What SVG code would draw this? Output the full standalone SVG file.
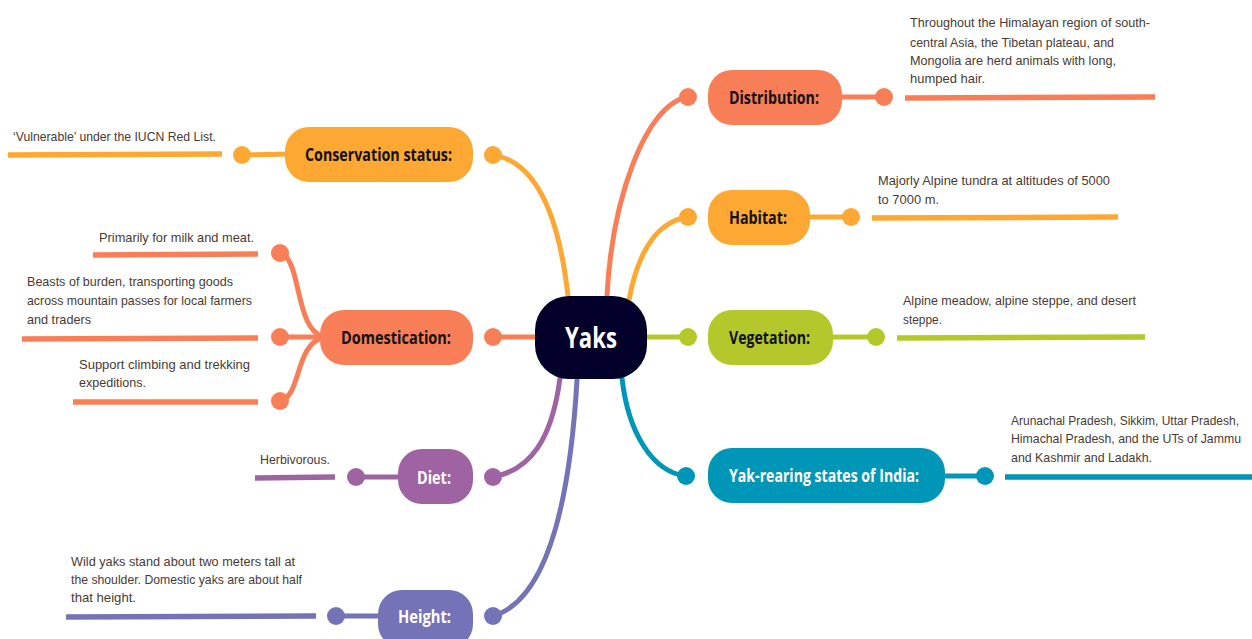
<svg xmlns="http://www.w3.org/2000/svg" width="1252" height="639" viewBox="0 0 1252 639">
<style>
.bg{fill:#ffffff}
.lbl{font-family:"Open Sans","Liberation Sans",sans-serif;font-weight:bold;font-size:18px}
.dk{fill:#111111}
.wt{fill:#ffffff}
.det{font-family:"Liberation Sans","Open Sans",sans-serif;font-size:13px;fill:#4a3a34}
.c{fill:none;stroke-width:5;stroke-linecap:round}
.u{fill:none;stroke-width:5.5;stroke-linecap:butt}
.or{stroke:#fda833}.orf{fill:#fda833}
.sa{stroke:#f87e57}.saf{fill:#f87e57}
.gr{stroke:#b5c82b}.grf{fill:#b5c82b}
.te{stroke:#0096b8}.tef{fill:#0096b8}
.pu{stroke:#9f63a4}.puf{fill:#9f63a4}
.in{stroke:#7473b8}.inf{fill:#7473b8}
</style>
<rect class="bg" x="0" y="0" width="1252" height="639"/>

<g id="connectors">
  <path class="c or" d="M493,155 C540,162 560,225 568,296"/>
  <path class="c sa" d="M688,97 C645,104 612,200 607,296"/>
  <path class="c or" d="M688,217 C652,222 636,262 629,300"/>
  <path class="c gr" d="M646,337 L688,337"/>
  <path class="c te" d="M622,378 C628,432 652,472 686,476"/>
  <path class="c sa" d="M493,337 L537,337"/>
  <path class="c pu" d="M560,378 C552,440 530,470 493,477"/>
  <path class="c in" d="M577,380 C570,500 548,600 493,616"/>
  <!-- node to detail dot -->
  <path class="c or" d="M242,155 L290,154"/>
  <path class="c sa" d="M835,97 L884,97"/>
  <path class="c or" d="M805,217 L851,217"/>
  <path class="c gr" d="M828,337 L876,337"/>
  <path class="c te" d="M940,476 L985,476"/>
  <path class="c sa" d="M280,253 C302,258 294,330 324,337"/>
  <path class="c sa" d="M280,337 L324,337"/>
  <path class="c sa" d="M280,401 C302,396 294,345 324,337"/>
  <path class="c pu" d="M356,477 L403,477"/>
  <path class="c in" d="M336,616 L383,616"/>
  <!-- underlines -->
  <path class="u or" d="M8,155 L222,154"/>
  <path class="u sa" d="M905,98 L1155,97"/>
  <path class="u or" d="M872,218 L1118,217"/>
  <path class="u gr" d="M897,338 L1145,337"/>
  <path class="u te" d="M1005,477 L1252,477"/>
  <path class="u sa" d="M93,255 L258,254"/>
  <path class="u sa" d="M22,339 L258,338"/>
  <path class="u sa" d="M73,402 L258,402"/>
  <path class="u pu" d="M255,478 L335,477"/>
  <path class="u in" d="M66,617 L316,616"/>
  <!-- dots -->
  <circle class="orf" cx="242" cy="155" r="9"/>
  <circle class="orf" cx="493" cy="155" r="9"/>
  <circle class="saf" cx="688" cy="97" r="9"/>
  <circle class="saf" cx="884" cy="97" r="9"/>
  <circle class="orf" cx="688" cy="217" r="9"/>
  <circle class="orf" cx="851" cy="217" r="9"/>
  <circle class="grf" cx="688" cy="337" r="9"/>
  <circle class="grf" cx="876" cy="337" r="9"/>
  <circle class="tef" cx="686" cy="476" r="9"/>
  <circle class="tef" cx="985" cy="476" r="9"/>
  <circle class="saf" cx="493" cy="337" r="9"/>
  <circle class="saf" cx="280" cy="253" r="9"/>
  <circle class="saf" cx="280" cy="337" r="9"/>
  <circle class="saf" cx="280" cy="401" r="9"/>
  <circle class="puf" cx="493" cy="477" r="9"/>
  <circle class="puf" cx="356" cy="477" r="9"/>
  <circle class="inf" cx="493" cy="616" r="9"/>
  <circle class="inf" cx="336" cy="616" r="9"/>
</g>

<g id="yaks">
  <rect x="535" y="296" width="112" height="83" rx="34" fill="#02002b"/>
  <text x="591" y="348" text-anchor="middle" class="lbl wt" style="font-size:29px" textLength="52" lengthAdjust="spacingAndGlyphs">Yaks</text>
</g>

<g id="conservation">
  <rect x="285" y="127" width="188" height="55" rx="24" class="orf"/>
  <text x="305" y="161" class="lbl dk" textLength="147" lengthAdjust="spacingAndGlyphs">Conservation status:</text>
  <text x="13" y="141" class="det" textLength="203" lengthAdjust="spacingAndGlyphs">‘Vulnerable’ under the IUCN Red List.</text>
</g>

<g id="distribution">
  <rect x="708" y="70" width="134" height="55" rx="24" class="saf"/>
  <text x="729" y="104" class="lbl dk" textLength="90" lengthAdjust="spacingAndGlyphs">Distribution:</text>
  <text class="det">
    <tspan x="910" y="27" textLength="240" lengthAdjust="spacingAndGlyphs">Throughout the Himalayan region of south-</tspan>
    <tspan x="910" y="47" textLength="204" lengthAdjust="spacingAndGlyphs">central Asia, the Tibetan plateau, and</tspan>
    <tspan x="910" y="65" textLength="206" lengthAdjust="spacingAndGlyphs">Mongolia are herd animals with long,</tspan>
    <tspan x="910" y="83" textLength="75" lengthAdjust="spacingAndGlyphs">humped hair.</tspan>
  </text>
</g>

<g id="habitat">
  <rect x="708" y="190" width="102" height="55" rx="24" class="orf"/>
  <text x="729" y="224" class="lbl dk" textLength="58" lengthAdjust="spacingAndGlyphs">Habitat:</text>
  <text class="det">
    <tspan x="878" y="185" textLength="232" lengthAdjust="spacingAndGlyphs">Majorly Alpine tundra at altitudes of 5000</tspan>
    <tspan x="878" y="204" textLength="61" lengthAdjust="spacingAndGlyphs">to 7000 m.</tspan>
  </text>
</g>

<g id="vegetation">
  <rect x="708" y="310" width="125" height="55" rx="24" class="grf"/>
  <text x="729" y="344" class="lbl dk" textLength="81" lengthAdjust="spacingAndGlyphs">Vegetation:</text>
  <text class="det">
    <tspan x="903" y="305" textLength="233" lengthAdjust="spacingAndGlyphs">Alpine meadow, alpine steppe, and desert</tspan>
    <tspan x="903" y="324" textLength="39" lengthAdjust="spacingAndGlyphs">steppe.</tspan>
  </text>
</g>

<g id="yakrearing">
  <rect x="708" y="448" width="237" height="55" rx="24" class="tef"/>
  <text x="729" y="482" class="lbl wt" textLength="190" lengthAdjust="spacingAndGlyphs">Yak-rearing states of India:</text>
  <text class="det" style="font-size:12.4px">
    <tspan x="1011" y="425" textLength="228" lengthAdjust="spacingAndGlyphs">Arunachal Pradesh, Sikkim, Uttar Pradesh,</tspan>
    <tspan x="1011" y="443" textLength="230" lengthAdjust="spacingAndGlyphs">Himachal Pradesh, and the UTs of Jammu</tspan>
    <tspan x="1011" y="462" textLength="141" lengthAdjust="spacingAndGlyphs">and Kashmir and Ladakh.</tspan>
  </text>
</g>

<g id="domestication">
  <rect x="320" y="310" width="153" height="55" rx="24" class="saf"/>
  <text x="341" y="344" class="lbl dk" textLength="110" lengthAdjust="spacingAndGlyphs">Domestication:</text>
  <text x="99" y="242" class="det" textLength="155" lengthAdjust="spacingAndGlyphs">Primarily for milk and meat.</text>
  <text class="det">
    <tspan x="27" y="286" textLength="206" lengthAdjust="spacingAndGlyphs">Beasts of burden, transporting goods</tspan>
    <tspan x="27" y="305" textLength="225" lengthAdjust="spacingAndGlyphs">across mountain passes for local farmers</tspan>
    <tspan x="27" y="324" textLength="64" lengthAdjust="spacingAndGlyphs">and traders</tspan>
  </text>
  <text class="det">
    <tspan x="79" y="369" textLength="171" lengthAdjust="spacingAndGlyphs">Support climbing and trekking</tspan>
    <tspan x="79" y="387" textLength="67" lengthAdjust="spacingAndGlyphs">expeditions.</tspan>
  </text>
</g>

<g id="diet">
  <rect x="398" y="449" width="75" height="55" rx="24" class="puf"/>
  <text x="417" y="484" class="lbl wt" textLength="34" lengthAdjust="spacingAndGlyphs">Diet:</text>
  <text x="260" y="464" class="det" textLength="70" lengthAdjust="spacingAndGlyphs">Herbivorous.</text>
</g>

<g id="height">
  <rect x="378" y="590" width="95" height="58" rx="24" class="inf"/>
  <text x="398" y="623" class="lbl wt" textLength="53" lengthAdjust="spacingAndGlyphs">Height:</text>
  <text class="det">
    <tspan x="71" y="566" textLength="224" lengthAdjust="spacingAndGlyphs">Wild yaks stand about two meters tall at</tspan>
    <tspan x="71" y="584" textLength="231" lengthAdjust="spacingAndGlyphs">the shoulder. Domestic yaks are about half</tspan>
    <tspan x="71" y="602" textLength="65" lengthAdjust="spacingAndGlyphs">that height.</tspan>
  </text>
</g>
</svg>
